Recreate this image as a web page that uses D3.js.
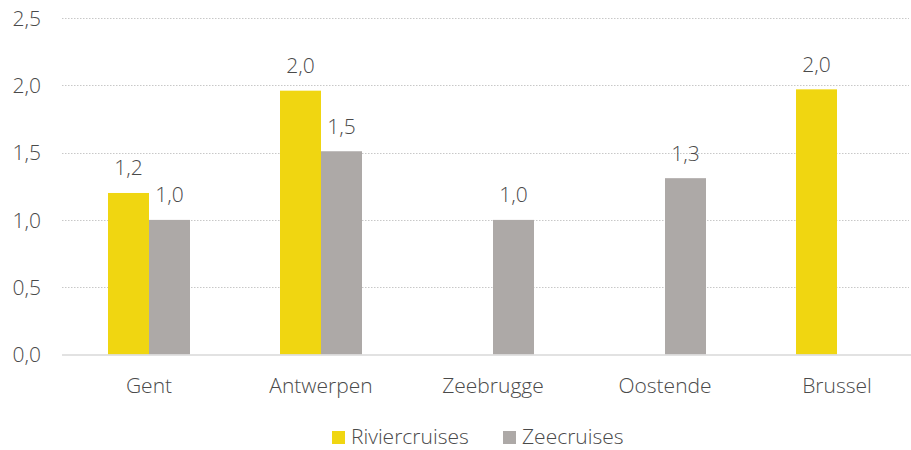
<!DOCTYPE html>
<html><head><meta charset="utf-8">
<script src="https://cdn.jsdelivr.net/npm/d3@7"></script>
<style>
body{margin:0;background:#fff;}
text{font-family:"Open Sans",sans-serif;font-weight:300;fill:#4a4a4a;}
</style></head>
<body><svg id="c" width="911" height="450"></svg>
<script>
const categories = ["Gent","Antwerpen","Zeebrugge","Oostende","Brussel"];
const seriesNames = ["Riviercruises","Zeecruises"];
const rivier = [1.2, 1.96, null, null, 1.97];
const zee = [1.0, 1.51, 1.0, 1.31, null];
const yTicks = [0, 0.5, 1.0, 1.5, 2.0, 2.5];
const colors = ["#F0D611","#ADA9A7"];

(function(){
const svg = d3.select("#c");
const pL = 63, pR = 923, gridL = 62, gridR = 909, pT = 18, pB = 354.5;
const FS = 21;
const x = d3.scaleBand().domain(categories).range([pL, pR]);
const y = d3.scaleLinear().domain([0, 2.5]).range([pB, pT]);
const fmt = v => d3.format(".1f")(v).replace(".", ",");

svg.append("g").selectAll("line").data(yTicks.filter(t => t > 0)).join("line")
  .attr("x1", gridL).attr("x2", gridR)
  .attr("y1", d => Math.round(y(d)) + 0.5).attr("y2", d => Math.round(y(d)) + 0.5)
  .attr("stroke", "#c8c8c8").attr("stroke-width", 1).attr("stroke-dasharray", "1.5,1.5");

const yAxis = d3.axisLeft(y).tickValues(yTicks).tickFormat(fmt).tickSize(0).tickPadding(0);
const ga = svg.append("g").attr("transform", `translate(41,0)`).call(yAxis);
ga.select(".domain").remove();
ga.selectAll("text").attr("font-size", FS).attr("font-family", "Open Sans").attr("font-weight", 300).attr("fill", "#4a4a4a").attr("dy", "0.35em");

const data = [];
categories.forEach((c, i) => {
  [rivier[i], zee[i]].forEach((v, j) => { if (v != null) data.push({c, s: seriesNames[j], v, j}); });
});
const bw = 41;
const xpos = d => x(d.c) + x.bandwidth() / 2 - bw + d.j * bw;

svg.append("g").selectAll("rect").data(data).join("rect")
  .attr("x", xpos).attr("width", bw)
  .attr("y", d => y(d.v)).attr("height", d => y(0) - y(d.v))
  .attr("fill", d => colors[d.j]);

svg.append("g").selectAll("text").data(data).join("text")
  .attr("x", d => xpos(d) + bw / 2).attr("y", d => y(d.v) - 17.5)
  .attr("text-anchor", "middle").attr("font-size", FS).text(d => fmt(d.v));

svg.append("line").attr("x1", gridL).attr("x2", 911).attr("y1", pB + 0.5).attr("y2", pB + 0.5)
  .attr("stroke", "#d9d9d9").attr("stroke-width", 1.5);

const xAxis = d3.axisBottom(x).tickSize(0).tickPadding(0);
const gx = svg.append("g").attr("transform", `translate(0,393)`).call(xAxis);
gx.select(".domain").remove();
gx.selectAll("text").attr("font-size", FS).attr("font-family", "Open Sans").attr("font-weight", 300).attr("fill", "#4a4a4a").attr("dy", 0);

const leg = svg.append("g");
const legX = [332, 503];
seriesNames.forEach((n, i) => {
  leg.append("rect").attr("x", legX[i]).attr("y", 431).attr("width", 13).attr("height", 13).attr("fill", colors[i]);
  leg.append("text").attr("x", legX[i] + 19).attr("y", 444).attr("font-size", FS).text(n);
});
})();
</script></body></html>
